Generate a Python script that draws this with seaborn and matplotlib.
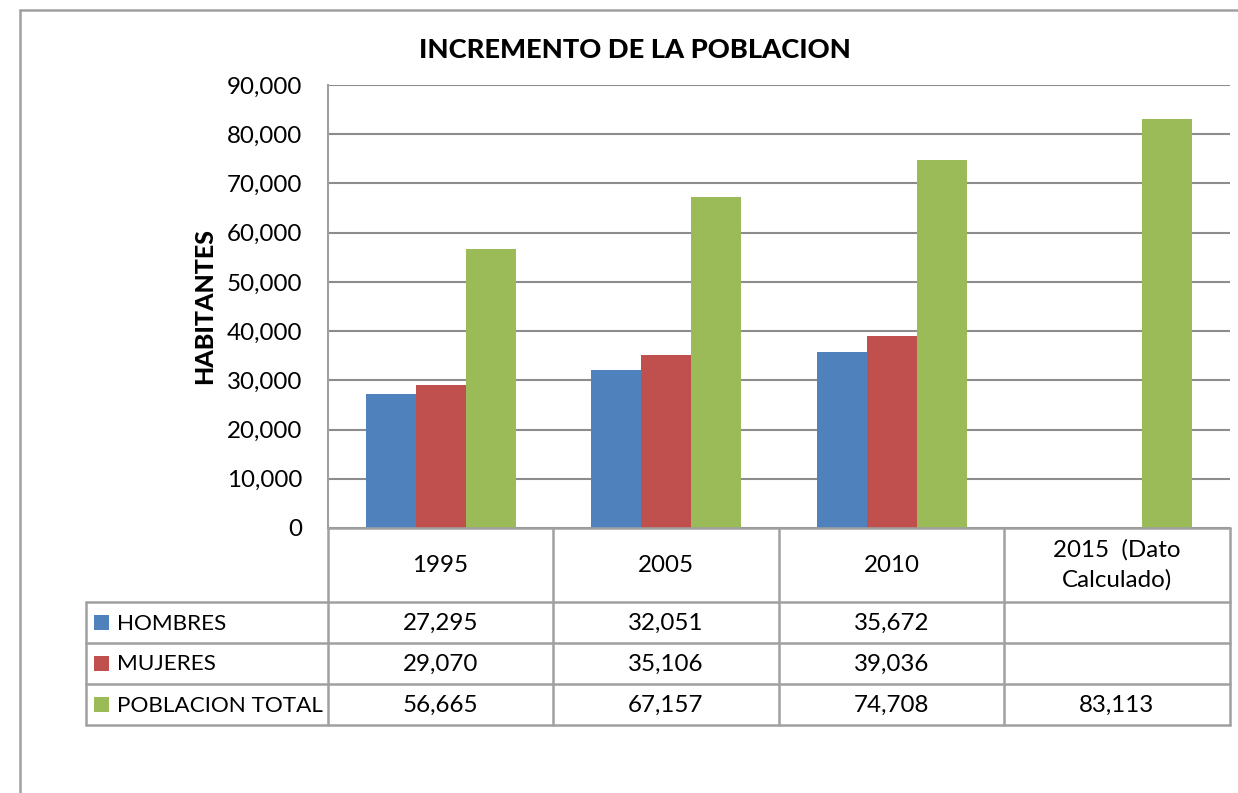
import numpy as np
import pandas as pd
import matplotlib
matplotlib.use("Agg")
import matplotlib.pyplot as plt
from matplotlib.lines import Line2D
from matplotlib.patches import Rectangle
import seaborn as sns

# Data
categories = ["1995", "2005", "2010", "2015  (Dato\nCalculado)"]
series_names = ["HOMBRES", "MUJERES", "POBLACION TOTAL"]
hombres = [27295, 32051, 35672, np.nan]
mujeres = [29070, 35106, 39036, np.nan]
total = [56665, 67157, 74708, 83113]
colors = ["#4F81BD", "#C0504D", "#9BBB59"]
y_ticks = [0, 10000, 20000, 30000, 40000, 50000, 60000, 70000, 80000, 90000]

series_values = [hombres, mujeres, total]
rows = []
for name, vals in zip(series_names, series_values):
    for cat, v in zip(categories, vals):
        rows.append({"Año": cat, "Serie": name, "Habitantes": v})
df = pd.DataFrame(rows)

sns.set_theme(style="white")
plt.rcParams["font.family"] = ["Lato", "DejaVu Sans"]

W, H = 1238, 793
fig = plt.figure(figsize=(W / 100, H / 100), dpi=100)
fig.patch.set_facecolor("white")


def fx(x):
    return x / W


def fy(y):
    return 1 - y / H


# Plot area
ax_l, ax_r, ax_t, ax_b = 328, 1230, 85, 528
ax = fig.add_axes([fx(ax_l), fy(ax_b), (ax_r - ax_l) / W, (ax_b - ax_t) / H])

sns.barplot(data=df, x="Año", y="Habitantes", hue="Serie", order=categories,
            hue_order=series_names, palette=colors, saturation=1, width=0.667,
            gap=0, linewidth=0, errorbar=None, legend=False, ax=ax)

ax.set_xlim(-0.5, len(categories) - 0.5)
ax.set_ylim(0, 90000)
ax.set_yticks(y_ticks)
ax.set_yticklabels([f"{v:,}" for v in y_ticks], fontsize=17.4, color="#000000")
ax.tick_params(axis="y", length=0, pad=18.5)
ax.set_xticks([])
ax.set_xlabel("")
ax.set_ylabel("")
ax.yaxis.grid(True, color="#8C8C8C", linewidth=1.5)
ax.set_axisbelow(True)
for side in ["top", "right", "bottom"]:
    ax.spines[side].set_visible(False)
ax.spines["left"].set_color("#A0A0A0")
ax.spines["left"].set_linewidth(1.5)

fig.text(fx(205), fy((ax_t + ax_b) / 2), "HABITANTES", rotation=90, ha="center",
         va="center", fontsize=18, fontweight="black", color="#000000")
fig.text(fx(635), fy(50), "INCREMENTO DE LA POBLACION", ha="center", va="center",
         fontsize=19.6, fontweight="black", color="#000000")

# Outer chart border (left and top)
line_kw = dict(transform=fig.transFigure, color="#A0A0A0", linewidth=1.8)
fig.add_artist(Line2D([fx(20), fx(20)], [fy(10), fy(793)], **line_kw))
fig.add_artist(Line2D([fx(20), fx(1238)], [fy(10), fy(10)], **line_kw))

# Data table beneath the plot
col_edges = [328, 553, 779, 1004, 1230]
row_edges = [602, 643, 684, 725]
header_top = 528
legend_left = 86

fig.add_artist(Line2D([fx(ax_l), fx(ax_r)], [fy(header_top), fy(header_top)], **line_kw))
for y in row_edges:
    fig.add_artist(Line2D([fx(legend_left), fx(ax_r)], [fy(y), fy(y)], **line_kw))
fig.add_artist(Line2D([fx(ax_l), fx(ax_l)], [fy(header_top), fy(row_edges[-1])], **line_kw))
for x in col_edges[1:]:
    fig.add_artist(Line2D([fx(x), fx(x)], [fy(header_top), fy(row_edges[-1])], **line_kw))
fig.add_artist(Line2D([fx(legend_left), fx(legend_left)], [fy(row_edges[0]), fy(row_edges[-1])], **line_kw))

txt_kw = dict(fontsize=17.4, color="#000000", va="center")
for i, cat in enumerate(categories):
    cx = (col_edges[i] + col_edges[i + 1]) / 2
    fig.text(fx(cx), fy((header_top + row_edges[0]) / 2), cat, ha="center",
             linespacing=1.45, **txt_kw)

for r, (name, vals, col) in enumerate(zip(series_names, series_values, colors)):
    cy = (row_edges[r] + row_edges[r + 1]) / 2
    fig.add_artist(Rectangle((fx(94), fy(cy + 7.5)), 15 / W, 15 / H,
                             transform=fig.transFigure, facecolor=col, edgecolor="none"))
    fig.text(fx(117), fy(cy + 1), name, ha="left", fontsize=16.2, color="#000000", va="center")
    for i, v in enumerate(vals):
        if np.isnan(v):
            continue
        cx = (col_edges[i] + col_edges[i + 1]) / 2
        fig.text(fx(cx), fy(cy + 1), f"{int(v):,}", ha="center", **txt_kw)

fig.savefig("out.png", dpi=100, facecolor="white")
